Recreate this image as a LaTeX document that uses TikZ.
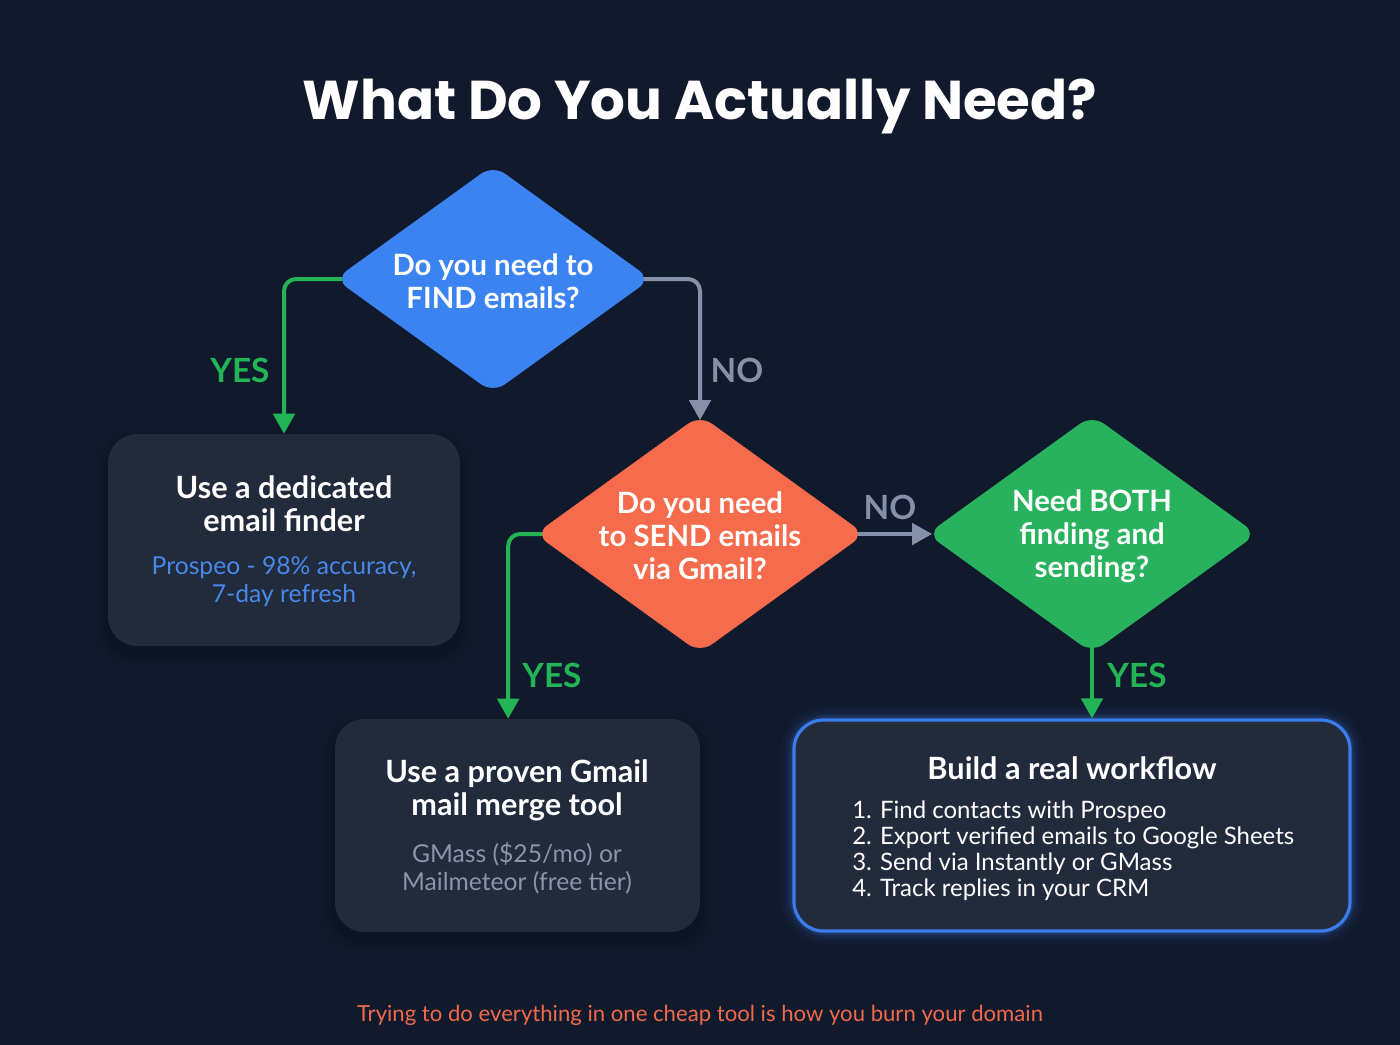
\documentclass[tikz,border=0pt]{standalone}
\usepackage{fontspec}
\setmainfont{Lato}
\newfontfamily\titlefont{Poppins}
\usetikzlibrary{shapes.geometric,arrows.meta}
\pgfdeclarelayer{bglayer}
\pgfdeclarelayer{connlayer}
\pgfsetlayers{bglayer,connlayer,main}
\definecolor{bgc}{HTML}{111A2D}
\definecolor{boxc}{HTML}{222B3C}
\definecolor{blued}{HTML}{3A83F1}
\definecolor{oranged}{HTML}{F56B4B}
\definecolor{greend}{HTML}{29B25E}
\definecolor{greena}{HTML}{22B455}
\definecolor{greya}{HTML}{8491A8}
\definecolor{subblue}{HTML}{4689EA}
\definecolor{subgrey}{HTML}{8A95A8}
\definecolor{coral}{HTML}{F06A4A}
\definecolor{glowb}{HTML}{3A7DEA}
\begin{document}
\begin{tikzpicture}[x=0.75pt,y=-0.75pt,
  dia/.style={diamond,inner sep=0pt,rounded corners=11pt,draw=none},
  rbox/.style={rectangle,rounded corners=22pt,fill=boxc,inner sep=0pt},
  dtext/.style={text=white,font=\bfseries\fontsize{22}{24.75}\selectfont,align=center},
  btitle/.style={text=white,font=\bfseries\fontsize{23}{24.75}\selectfont,align=center},
  bsub/.style={font=\fontsize{18.5}{21}\selectfont,align=center},
  lab/.style={font=\bfseries\fontsize{25}{26}\selectfont},
  shad/.style={black,rounded corners=26pt},
  conn/.style={line width=3pt,rounded corners=9pt,-{Triangle[length=15pt,width=16pt]}},
]
\begin{pgfonlayer}{bglayer}
\fill[bgc] (0,0) rectangle (1400,1045);
% box shadows
\foreach \s/\o in {14/0.05,9/0.07,4/0.09}{
  \fill[shad,opacity=\o] (108-\s,434-\s+8) rectangle (460+\s,646+\s+8);
  \fill[shad,opacity=\o] (335-\s,719-\s+8) rectangle (700+\s,932+\s+8);
}
% boxes
\node[rbox,minimum width=264pt,minimum height=159pt] (b1) at (284,540) {};
\node[rbox,minimum width=273.75pt,minimum height=159.75pt] (b2) at (517.5,825.5) {};
% glow for b3
\foreach \w/\o in {20/0.04,14/0.06,9/0.09,6/0.14}{
  \draw[glowb,line width=\w pt,opacity=\o,rounded corners=24pt] (794,720) rectangle (1350,931);
}
\node[rbox,minimum width=417pt,minimum height=158.25pt,draw=glowb,line width=2.4pt] (b3) at (1072,825.5) {};
\end{pgfonlayer}
\useasboundingbox (0,0) rectangle (1400,1045);

% title
\node[text=white,font=\titlefont\bfseries\fontsize{41}{48}\selectfont] (title) at (700,106) {What Do You Actually Need?};

% diamonds
\node[dia,fill=blued,minimum width=237pt,minimum height=171pt] (d1) at (493,279) {};
\node[dia,fill=oranged,minimum width=247.5pt,minimum height=178.5pt] (d2) at (700,534) {};
\node[dia,fill=greend,minimum width=247.5pt,minimum height=178.5pt] (d3) at (1092,534) {};

% diamond texts
\node[dtext] (t1) at (493,281) {Do you need to\\FIND emails?};
\node[dtext] (t2) at (700,536) {Do you need\\to SEND emails\\via Gmail?};
\node[dtext] (t3) at (1092,536) {Need BOTH\\finding and\\sending?};

% box texts
\node[btitle] (b1t) at (284,504) {Use a dedicated\\email finder};
\node[bsub,text=subblue] (b1s) at (284,582) {Prospeo - 98\% accuracy,\\7-day refresh};
\node[btitle] (b2t) at (517,790) {Use a proven Gmail\\mail merge tool};
\node[bsub,text=subgrey] (b2s) at (517,868) {GMass (\$25/mo) or\\Mailmeteor (free tier)};
\node[btitle] (b3t) at (1072,768) {Build a real workflow};
\node[text=white,font=\fontsize{18}{19.5}\selectfont,align=left,anchor=west,inner sep=0pt] (b3l) at (852,851) {1. Find contacts with Prospeo\\2. Export verified emails to Google Sheets\\3. Send via Instantly or GMass\\4. Track replies in your CRM};

% connectors (behind diamonds, starting inside them)
\begin{pgfonlayer}{connlayer}
\draw[conn,greena] ([xshift=15pt]d1.west) -| (b1.north);
\draw[conn,greya] ([xshift=-15pt]d1.east) -| ([yshift=-4pt]d2.north);
\draw[conn,greya,rounded corners=0pt] ([xshift=-15pt]d2.east) -- ([xshift=4pt]d3.west);
\draw[conn,greena] ([xshift=15pt]d2.west) -| ([xshift=-7pt]b2.north);
\draw[conn,greena,rounded corners=0pt] ([yshift=15pt]d3.south) -- (d3.south |- b3.north);
\end{pgfonlayer}

% labels
\node[lab,text=greena] (l1) at (240,370) {YES};
\node[lab,text=greya] (l2) at (737,370) {NO};
\node[lab,text=greya] (l3) at (890,507) {NO};
\node[lab,text=greena] (l4) at (552,675) {YES};
\node[lab,text=greena] (l5) at (1137,675) {YES};

% footer
\node[text=coral,font=\fontsize{16.6}{18}\selectfont] (foot) at (700,1015) {Trying to do everything in one cheap tool is how you burn your domain};
\end{tikzpicture}
\end{document}
